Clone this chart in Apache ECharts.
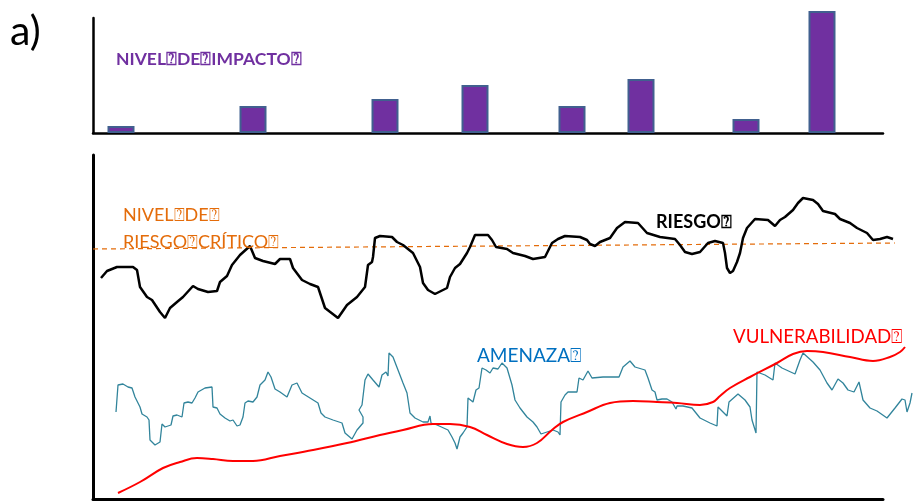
<!DOCTYPE html>
<html>
<head>
<meta charset="utf-8">
<script src="https://cdn.jsdelivr.net/npm/echarts@6/dist/echarts.min.js"></script>
<style>
html,body{margin:0;padding:0;background:#fff;}
#chart{width:913px;height:502px;}
</style>
</head>
<body>
<div id="chart"></div>
<script>
// ---- Data (time units; top: impact level, bottom: index level) ----
var impactX = [28, 160, 292, 382, 479, 548, 653, 729];
var impactY = [7, 27, 34, 48, 27, 54, 14, 122];

var riesgo = [[8,221],[14,228],[24,232],[40,232],[44,229],[47,212],[54,202],[59,199],[67,187],[72,181],[77,191],[84,197],[90,202],[100,213],[105,210],[115,207],[124,208],[127,217],[134,223],[139,234],[147,244],[157,253],[162,241],[170,238],[182,235],[187,240],[197,240],[200,231],[209,219],[217,215],[225,212],[232,191],[245,181],[254,194],[264,202],[272,212],[275,234],[279,237],[280,242],[282,261],[287,263],[299,262],[304,257],[310,254],[320,246],[327,232],[330,216],[335,209],[342,205],[354,211],[357,222],[362,231],[367,235],[374,246],[377,252],[382,264],[395,264],[399,259],[403,252],[414,250],[420,246],[432,243],[440,240],[452,242],[459,256],[465,260],[472,263],[487,262],[494,259],[497,255],[502,253],[507,257],[517,261],[524,271],[532,277],[545,276],[554,266],[567,262],[582,260],[587,254],[592,247],[599,245],[607,247],[615,256],[622,258],[630,256],[632,246],[634,231],[637,226],[640,228],[644,237],[647,246],[650,261],[654,271],[662,280],[675,279],[682,273],[687,279],[692,282],[700,289],[705,296],[710,301],[720,299],[725,295],[730,288],[742,285],[747,280],[757,276],[764,271],[774,266],[780,259],[787,260],[794,262],[800,260]];

var amenaza = [[23,87],[25,114],[30,115],[35,112],[39,111],[42,102],[47,92],[49,85],[54,82],[56,79],[57,59],[62,54],[67,57],[69,75],[72,72],[74,70],[78,74],[80,83],[84,84],[89,82],[91,96],[95,97],[99,96],[102,101],[105,107],[112,111],[119,112],[120,92],[124,91],[127,85],[132,81],[137,78],[140,79],[142,76],[144,73],[147,74],[150,82],[152,96],[155,98],[160,97],[164,102],[167,114],[172,119],[175,127],[178,122],[182,110],[187,107],[194,102],[199,114],[204,116],[209,106],[217,101],[225,96],[228,86],[232,82],[240,79],[249,76],[252,66],[259,60],[264,69],[270,76],[270,82],[266,89],[269,94],[272,119],[275,125],[280,119],[286,112],[287,111],[289,124],[293,127],[295,123],[296,146],[300,142],[305,129],[310,116],[314,106],[317,86],[322,81],[330,77],[335,77],[337,83],[338,76],[344,74],[355,69],[359,62],[362,56],[364,50],[367,62],[370,66],[374,72],[375,101],[377,99],[380,97],[383,109],[386,111],[389,131],[393,129],[397,126],[400,131],[405,130],[409,136],[414,131],[419,114],[422,99],[427,91],[434,82],[440,77],[444,72],[448,65],[454,67],[460,69],[465,67],[467,64],[468,97],[472,104],[475,107],[484,107],[486,121],[490,119],[495,128],[499,121],[510,122],[526,122],[530,132],[537,138],[542,132],[552,129],[555,121],[559,109],[562,107],[564,99],[569,100],[574,100],[579,97],[583,90],[584,93],[590,93],[599,91],[607,81],[617,76],[624,73],[625,92],[630,87],[634,83],[636,97],[645,105],[652,99],[657,92],[659,79],[663,66],[664,127],[672,124],[680,119],[682,136],[689,131],[702,125],[707,139],[710,146],[720,137],[727,129],[734,116],[739,109],[745,120],[750,116],[755,109],[761,107],[766,117],[770,99],[777,91],[784,88],[794,81],[802,91],[809,100],[812,99],[814,87],[817,96],[819,106]];

var vulnerabilidad = [[25,6],[47,17],[70,31],[87,37],[104,41],[120,40],[140,38],[160,38],[187,43],[220,49],[254,56],[287,64],[310,69],[340,75],[357,75],[377,72],[394,64],[414,55],[430,52],[444,56],[459,69],[470,77],[494,87],[517,96],[540,98],[564,97],[584,96],[607,94],[620,97],[627,103],[637,111],[657,122],[684,136],[700,145],[714,148],[730,147],[757,142],[780,138],[797,142],[807,147],[812,152]];

var umbral = [[0,250],[802,256]];

var Q = '\u2370';
var labels = {
  panel: 'a)',
  impacto: 'NIVEL' + Q + 'DE' + Q + 'IMPACTO' + Q,
  critico1: 'NIVEL' + Q + 'DE' + Q,
  critico2: 'RIESGO' + Q + 'CRÍTICO' + Q,
  riesgo: 'RIESGO' + Q,
  amenaza: 'AMENAZA' + Q,
  vulnerabilidad: 'VULNERABILIDAD' + Q
};

var chart = echarts.init(document.getElementById('chart'), null, {renderer: 'canvas'});
var FONT = 'Lato, "Open Sans", sans-serif';

function axisBase(idx, max, show, w) {
  return {
    type: 'value', gridIndex: idx, min: 0, max: max,
    axisLine: {show: show, onZero: false, lineStyle: {color: '#000', width: w || 3}},
    axisTick: {show: false}, axisLabel: {show: false}, splitLine: {show: false}
  };
}

var option = {
  animation: false,
  backgroundColor: '#fff',
  grid: [
    {left: 93, right: 30, top: 18, bottom: 369},
    {left: 93, right: 30, top: 155, bottom: 3},
    // same scale as grid 1, but extended to the right edge so lines can run past the axis end
    {left: 93, right: 0, top: 155, bottom: 3}
  ],
  xAxis: [axisBase(0, 790, true, 2.5), axisBase(1, 790, true, 3), axisBase(2, 820, false)],
  yAxis: [axisBase(0, 115, true, 2.5), axisBase(1, 344, true, 3), axisBase(2, 344, false)],
  series: [
    {
      type: 'bar', xAxisIndex: 0, yAxisIndex: 0, clip: false,
      barWidth: 27,
      data: impactX.map(function (x, i) { return [x, impactY[i]]; }),
      itemStyle: {color: '#7030A0', borderColor: '#41608F', borderWidth: 2}
    },
    {
      type: 'line', xAxisIndex: 2, yAxisIndex: 2, showSymbol: false, z: 1,
      data: umbral,
      lineStyle: {color: '#E46C0A', width: 1.2, type: [5, 4]}
    },
    {
      type: 'line', xAxisIndex: 2, yAxisIndex: 2, showSymbol: false, z: 3,
      data: amenaza,
      lineStyle: {color: '#31849B', width: 1.3}
    },
    {
      type: 'line', xAxisIndex: 2, yAxisIndex: 2, showSymbol: false, z: 4,
      data: vulnerabilidad, smooth: 0.4,
      lineStyle: {color: '#FF0000', width: 2}
    },
    {
      type: 'line', xAxisIndex: 2, yAxisIndex: 2, showSymbol: false, z: 5,
      data: riesgo,
      lineStyle: {color: '#000000', width: 2.5}
    }
  ],
  graphic: [
    {type: 'text', z: 10, style: {x: 10, y: 32, text: labels.panel, font: '41px ' + FONT, fill: '#000', textVerticalAlign: 'middle'}},
    {type: 'text', z: 10, style: {x: 116, y: 59, text: labels.impacto, font: 'bold 17.5px ' + FONT, fill: '#7030A0', textVerticalAlign: 'middle'}},
    {type: 'text', z: 10, style: {x: 123, y: 215, text: labels.critico1, font: '18px ' + FONT, fill: '#E46C0A', textVerticalAlign: 'middle'}},
    {type: 'text', z: 10, style: {x: 123, y: 242, text: labels.critico2, font: '18px ' + FONT, fill: '#E46C0A', textVerticalAlign: 'middle'}},
    {type: 'text', z: 10, style: {x: 656, y: 222, text: labels.riesgo, font: 'bold 18px ' + FONT, fill: '#000', textVerticalAlign: 'middle'}},
    {type: 'text', z: 10, style: {x: 477, y: 356, text: labels.amenaza, font: '19px ' + FONT, fill: '#0070C0', textVerticalAlign: 'middle'}},
    {type: 'text', z: 10, style: {x: 733, y: 337, text: labels.vulnerabilidad, font: '18.7px ' + FONT, fill: '#FF0000', textVerticalAlign: 'middle'}}
  ]
};
chart.setOption(option);
</script>
</body>
</html>
